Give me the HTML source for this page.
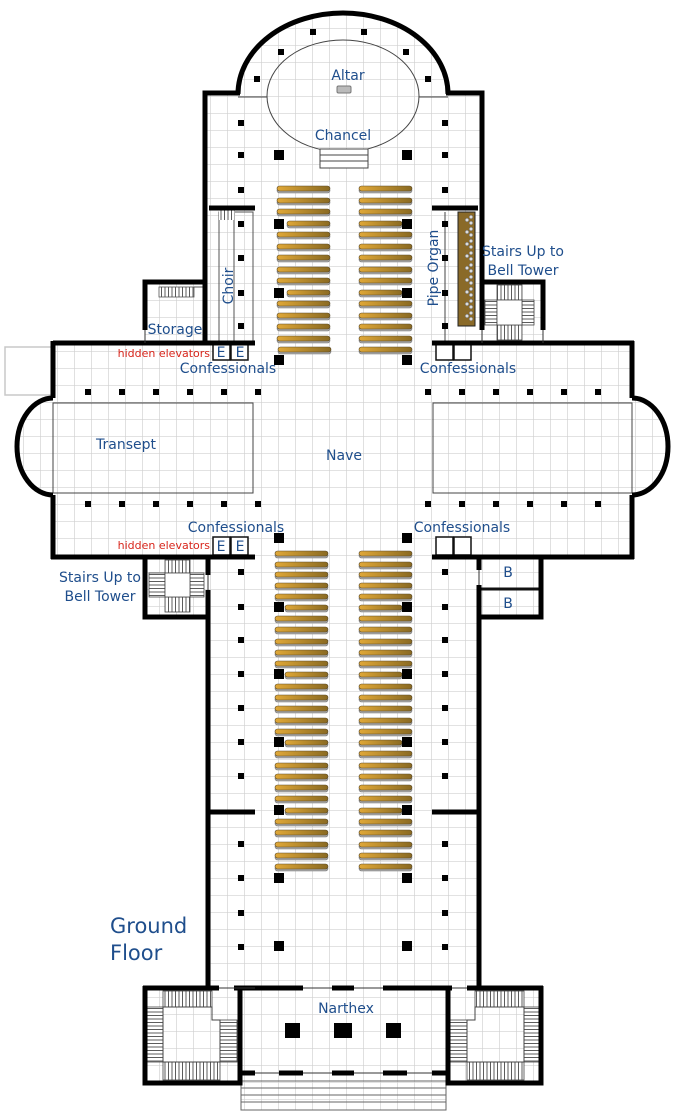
<!DOCTYPE html>
<html><head><meta charset="utf-8"><style>
html,body{margin:0;padding:0;background:#fff;}
svg{display:block;}
text{font-family:"DejaVu Sans","Liberation Sans",sans-serif;fill:#1f4e8c;}
</style></head><body>
<svg width="700" height="1120" viewBox="0 0 700 1120" xmlns="http://www.w3.org/2000/svg">
<defs>
<pattern id="g" patternUnits="userSpaceOnUse" x="6" y="11" width="17" height="17">
<rect width="17" height="17" fill="#fff"/>
<path d="M0,0V17M0,0H17" stroke="#d0d0d0" stroke-width="1.3" fill="none"/>
</pattern>
<linearGradient id="pw" x1="0" x2="1" y1="0" y2="0">
<stop offset="0" stop-color="#e0a838"/><stop offset="1" stop-color="#8a6a22"/>
</linearGradient>
<pattern id="vl" patternUnits="userSpaceOnUse" width="3.5" height="10"><rect width="3.5" height="10" fill="#fff"/><path d="M0.5,0V10" stroke="#333" stroke-width="0.8"/></pattern>
<pattern id="hl" patternUnits="userSpaceOnUse" width="10" height="3.5"><rect width="10" height="3.5" fill="#fff"/><path d="M0,0.5H10" stroke="#333" stroke-width="0.8"/></pattern>
<g id="P">
<rect x="277" y="186" width="53" height="5" rx="2.5"/><rect x="359" y="186" width="53" height="5" rx="2.5"/>
<rect x="277" y="198" width="53" height="5" rx="2.5"/><rect x="359" y="198" width="53" height="5" rx="2.5"/>
<rect x="277" y="209" width="53" height="5" rx="2.5"/><rect x="359" y="209" width="53" height="5" rx="2.5"/>
<rect x="287" y="221" width="43" height="5" rx="2.5"/><rect x="359" y="221" width="43" height="5" rx="2.5"/>
<rect x="277" y="232" width="53" height="5" rx="2.5"/><rect x="359" y="232" width="53" height="5" rx="2.5"/>
<rect x="277" y="244" width="53" height="5" rx="2.5"/><rect x="359" y="244" width="53" height="5" rx="2.5"/>
<rect x="277" y="255" width="53" height="5" rx="2.5"/><rect x="359" y="255" width="53" height="5" rx="2.5"/>
<rect x="277" y="267" width="53" height="5" rx="2.5"/><rect x="359" y="267" width="53" height="5" rx="2.5"/>
<rect x="277" y="278" width="53" height="5" rx="2.5"/><rect x="359" y="278" width="53" height="5" rx="2.5"/>
<rect x="287" y="290" width="43" height="5" rx="2.5"/><rect x="359" y="290" width="43" height="5" rx="2.5"/>
<rect x="277" y="301" width="53" height="5" rx="2.5"/><rect x="359" y="301" width="53" height="5" rx="2.5"/>
<rect x="277" y="313" width="53" height="5" rx="2.5"/><rect x="359" y="313" width="53" height="5" rx="2.5"/>
<rect x="277" y="324" width="53" height="5" rx="2.5"/><rect x="359" y="324" width="53" height="5" rx="2.5"/>
<rect x="277" y="336" width="53" height="5" rx="2.5"/><rect x="359" y="336" width="53" height="5" rx="2.5"/>
<rect x="278" y="347" width="53" height="5" rx="2.5"/><rect x="359" y="347" width="53" height="5" rx="2.5"/>
<rect x="275" y="551" width="53" height="5" rx="2.5"/><rect x="359" y="551" width="53" height="5" rx="2.5"/>
<rect x="275" y="562" width="53" height="5" rx="2.5"/><rect x="359" y="562" width="53" height="5" rx="2.5"/>
<rect x="275" y="572" width="53" height="5" rx="2.5"/><rect x="359" y="572" width="53" height="5" rx="2.5"/>
<rect x="275" y="583" width="53" height="5" rx="2.5"/><rect x="359" y="583" width="53" height="5" rx="2.5"/>
<rect x="275" y="594" width="53" height="5" rx="2.5"/><rect x="359" y="594" width="53" height="5" rx="2.5"/>
<rect x="285" y="605" width="43" height="5" rx="2.5"/><rect x="359" y="605" width="43" height="5" rx="2.5"/>
<rect x="275" y="616" width="53" height="5" rx="2.5"/><rect x="359" y="616" width="53" height="5" rx="2.5"/>
<rect x="275" y="627" width="53" height="5" rx="2.5"/><rect x="359" y="627" width="53" height="5" rx="2.5"/>
<rect x="275" y="639" width="53" height="5" rx="2.5"/><rect x="359" y="639" width="53" height="5" rx="2.5"/>
<rect x="275" y="650" width="53" height="5" rx="2.5"/><rect x="359" y="650" width="53" height="5" rx="2.5"/>
<rect x="275" y="661" width="53" height="5" rx="2.5"/><rect x="359" y="661" width="53" height="5" rx="2.5"/>
<rect x="285" y="672" width="43" height="5" rx="2.5"/><rect x="359" y="672" width="43" height="5" rx="2.5"/>
<rect x="275" y="684" width="53" height="5" rx="2.5"/><rect x="359" y="684" width="53" height="5" rx="2.5"/>
<rect x="275" y="695" width="53" height="5" rx="2.5"/><rect x="359" y="695" width="53" height="5" rx="2.5"/>
<rect x="275" y="706" width="53" height="5" rx="2.5"/><rect x="359" y="706" width="53" height="5" rx="2.5"/>
<rect x="275" y="718" width="53" height="5" rx="2.5"/><rect x="359" y="718" width="53" height="5" rx="2.5"/>
<rect x="275" y="729" width="53" height="5" rx="2.5"/><rect x="359" y="729" width="53" height="5" rx="2.5"/>
<rect x="285" y="740" width="43" height="5" rx="2.5"/><rect x="359" y="740" width="43" height="5" rx="2.5"/>
<rect x="275" y="751" width="53" height="5" rx="2.5"/><rect x="359" y="751" width="53" height="5" rx="2.5"/>
<rect x="275" y="763" width="53" height="5" rx="2.5"/><rect x="359" y="763" width="53" height="5" rx="2.5"/>
<rect x="275" y="774" width="53" height="5" rx="2.5"/><rect x="359" y="774" width="53" height="5" rx="2.5"/>
<rect x="275" y="785" width="53" height="5" rx="2.5"/><rect x="359" y="785" width="53" height="5" rx="2.5"/>
<rect x="275" y="796" width="53" height="5" rx="2.5"/><rect x="359" y="796" width="53" height="5" rx="2.5"/>
<rect x="285" y="808" width="43" height="5" rx="2.5"/><rect x="359" y="808" width="43" height="5" rx="2.5"/>
<rect x="275" y="819" width="53" height="5" rx="2.5"/><rect x="359" y="819" width="53" height="5" rx="2.5"/>
<rect x="275" y="830" width="53" height="5" rx="2.5"/><rect x="359" y="830" width="53" height="5" rx="2.5"/>
<rect x="275" y="842" width="53" height="5" rx="2.5"/><rect x="359" y="842" width="53" height="5" rx="2.5"/>
<rect x="275" y="853" width="53" height="5" rx="2.5"/><rect x="359" y="853" width="53" height="5" rx="2.5"/>
<rect x="275" y="864" width="53" height="5" rx="2.5"/><rect x="359" y="864" width="53" height="5" rx="2.5"/>
</g>
</defs>

<rect x="5" y="347" width="48" height="48" fill="#fff" stroke="#c8c8c8" stroke-width="1.5"/>

<g fill="url(#g)">
<path d="M238,94 A105,81 0 0 1 448,94 Z"/>
<rect x="205" y="93" width="277" height="252"/>
<rect x="145" y="282" width="62" height="62"/>
<rect x="480" y="282" width="63" height="62"/>
<rect x="53" y="343" width="579" height="214"/>
<ellipse cx="53" cy="446" rx="36" ry="48"/>
<ellipse cx="632" cy="446" rx="36" ry="48"/>
<rect x="208" y="555" width="271" height="433"/>
<rect x="143" y="557" width="66" height="60"/>
<rect x="479" y="557" width="62" height="60"/>
<rect x="143" y="988" width="400" height="95"/>
<rect x="241" y="1073" width="205" height="37"/>
</g>

<g fill="none" stroke="#444" stroke-width="1">
<ellipse cx="343" cy="96" rx="76" ry="56" fill="none"/>
<path d="M238,97H267M419,97H448"/>
<rect x="320" y="149" width="48" height="19" fill="#fff"/>
<path d="M320,155H368M320,161H368"/>
<rect x="53" y="403" width="200" height="90"/>
<rect x="433" y="403" width="199" height="90"/>
</g>
<rect x="337" y="86" width="14" height="7" rx="1.5" fill="#bbb" stroke="#777" stroke-width="1"/>

<g stroke="#666" stroke-width="1" fill="none">
<rect x="241" y="1073" width="205" height="37"/>
<path d="M241,1081H446M241,1088H446M241,1095H446M241,1102H446"/>
</g>

<g stroke="#555" stroke-width="1" fill="none">
<rect x="219" y="212" width="34" height="131"/>
<path d="M234,212V343"/>
</g>
<rect x="219" y="210" width="16" height="10" fill="url(#vl)"/>
<rect x="159" y="287" width="35" height="10" fill="url(#vl)" stroke="#555" stroke-width="0.8"/>
<path d="M194,287H205V300" stroke="#555" fill="none"/>

<rect x="458" y="212" width="17" height="114" fill="#8a6a28" stroke="#222" stroke-width="1"/>
<g fill="#ddd" stroke="#666" stroke-width="0.5">
<circle cx="471" cy="217" r="1.8"/><circle cx="471" cy="223" r="1.8"/><circle cx="471" cy="229" r="1.8"/><circle cx="471" cy="235" r="1.8"/><circle cx="471" cy="241" r="1.8"/><circle cx="471" cy="247" r="1.8"/><circle cx="471" cy="253" r="1.8"/><circle cx="471" cy="259" r="1.8"/><circle cx="471" cy="265" r="1.8"/><circle cx="471" cy="271" r="1.8"/><circle cx="471" cy="277" r="1.8"/><circle cx="471" cy="283" r="1.8"/><circle cx="471" cy="289" r="1.8"/><circle cx="471" cy="295" r="1.8"/><circle cx="471" cy="301" r="1.8"/><circle cx="471" cy="307" r="1.8"/><circle cx="471" cy="313" r="1.8"/><circle cx="471" cy="319" r="1.8"/>
<circle cx="467" cy="220" r="1.8"/><circle cx="467" cy="232" r="1.8"/><circle cx="467" cy="244" r="1.8"/><circle cx="467" cy="256" r="1.8"/><circle cx="467" cy="268" r="1.8"/><circle cx="467" cy="280" r="1.8"/><circle cx="467" cy="292" r="1.8"/><circle cx="467" cy="304" r="1.8"/><circle cx="467" cy="316" r="1.8"/>
</g>
<path d="M445,212V343" stroke="#444" stroke-width="1"/>

<g stroke="#444" stroke-width="0.8">
<rect x="497" y="285" width="25" height="15" fill="url(#vl)"/>
<rect x="497" y="325" width="25" height="15" fill="url(#vl)"/>
<rect x="485" y="300" width="12" height="25" fill="url(#hl)"/>
<rect x="522" y="300" width="12" height="25" fill="url(#hl)"/>
<rect x="497" y="300" width="25" height="25" fill="#fff"/>
</g>
<g stroke="#444" stroke-width="0.8">
<rect x="165" y="560" width="25" height="13" fill="url(#vl)"/>
<rect x="165" y="597" width="25" height="15" fill="url(#vl)"/>
<rect x="149" y="573" width="16" height="24" fill="url(#hl)"/>
<rect x="190" y="573" width="14" height="24" fill="url(#hl)"/>
<rect x="165" y="573" width="25" height="24" fill="#fff"/>
</g>

<g stroke="#444" stroke-width="0.8">
<rect x="163" y="991" width="49" height="16" fill="url(#vl)"/>
<rect x="147" y="1007" width="16" height="55" fill="url(#hl)"/>
<rect x="163" y="1062" width="57" height="18" fill="url(#vl)"/>
<rect x="220" y="1020" width="17" height="42" fill="url(#hl)"/>
<rect x="475" y="991" width="49" height="16" fill="url(#vl)"/>
<rect x="524" y="1007" width="16" height="55" fill="url(#hl)"/>
<rect x="467" y="1062" width="57" height="18" fill="url(#vl)"/>
<rect x="450" y="1020" width="17" height="42" fill="url(#hl)"/>
</g>
<g fill="none" stroke="#444" stroke-width="1">
<path d="M163,1007H212V1020H220V1062H163Z"/>
<path d="M524,1007H475V1020H467V1062H524Z"/>
</g>

<g stroke="#111" stroke-width="1.5" fill="#fff">
<rect x="213" y="343" width="17" height="17"/><rect x="231" y="343" width="17" height="17"/>
<rect x="213" y="537" width="17" height="18"/><rect x="231" y="537" width="17" height="18"/>
<rect x="436" y="343" width="17" height="17"/><rect x="454" y="343" width="17" height="17"/>
<rect x="436" y="537" width="17" height="18"/><rect x="454" y="537" width="17" height="18"/>
</g>

<path d="M479,589H541" stroke="#111" stroke-width="3"/>

<g fill="none" stroke="#000" stroke-width="5" stroke-linejoin="miter">
<path d="M238,94 A105,81 0 0 1 448,94"/>
<path d="M240,93H205V345"/>
<path d="M446,93H482V330"/>
<path d="M482,282H543V330"/>
<path d="M207,282H145V330"/>
<path d="M209,208H255"/>
<path d="M432,208H478"/>
<path d="M53,343H255M432,343H634"/>
<path d="M53,341V398M53,495V559"/>
<path d="M632,341V398M632,495V559"/>
<path d="M53,398 A36,48.5 0 0 0 53,495"/>
<path d="M632,398 A36,48.5 0 0 1 632,495"/>
<path d="M51,557H255M432,557H634"/>
<path d="M208,557V575M208,590V990"/>
<path d="M479,557V570M479,585V990"/>
<path d="M479,557H541V617H479"/>
<path d="M208,557H145V617H208"/>
<path d="M208,812H255M432,812H479"/>
<path d="M143,988H219M234,988H303M332,988H354M383,988H452M467,988H543"/>
<path d="M145,986V1083H240V986M448,986V1083H541V986"/>
<path d="M240,1073H255M279,1073H303M332,1073H354M383,1073H407M432,1073H448"/>
</g>
<g stroke="#333" stroke-width="1">
<path d="M145,330V343M543,330V343M482,330V343M208,575V590M479,570V585M255,988H234M219,988H234M303,988H332M354,988H383M452,988H467M255,1073H279M303,1073H332M354,1073H383M407,1073H432"/>
</g>

<!-- pews: shadow then body -->
<use href="#P" transform="translate(0,2)" fill="#a8a8a8" stroke="#777" stroke-width="0.6"/>
<use href="#P" fill="url(#pw)" stroke="#5a4a2a" stroke-width="0.6"/>

<g fill="#000">
<rect x="310" y="29" width="6" height="6"/><rect x="361" y="29" width="6" height="6"/>
<rect x="278" y="49" width="6" height="6"/><rect x="403" y="49" width="6" height="6"/>
<rect x="254" y="76" width="6" height="6"/><rect x="425" y="76" width="6" height="6"/>
<rect x="238" y="120" width="6" height="6"/><rect x="442" y="120" width="6" height="6"/>
<rect x="238" y="152" width="6" height="6"/><rect x="442" y="152" width="6" height="6"/>
<rect x="238" y="187" width="6" height="6"/><rect x="442" y="187" width="6" height="6"/>
<rect x="274" y="150" width="10" height="10"/><rect x="402" y="150" width="10" height="10"/>
<rect x="238" y="221" width="6" height="6"/><rect x="442" y="221" width="6" height="6"/>
<rect x="238" y="255" width="6" height="6"/><rect x="442" y="255" width="6" height="6"/>
<rect x="238" y="290" width="6" height="6"/><rect x="442" y="290" width="6" height="6"/>
<rect x="238" y="323" width="6" height="6"/><rect x="442" y="323" width="6" height="6"/>
<rect x="274" y="219" width="10" height="10"/><rect x="402" y="219" width="10" height="10"/>
<rect x="274" y="288" width="10" height="10"/><rect x="402" y="288" width="10" height="10"/>
<rect x="274" y="355" width="10" height="10"/><rect x="402" y="355" width="10" height="10"/>
<rect x="274" y="533" width="10" height="10"/><rect x="402" y="533" width="10" height="10"/>
<rect x="85" y="389" width="6" height="6"/><rect x="119" y="389" width="6" height="6"/><rect x="153" y="389" width="6" height="6"/><rect x="187" y="389" width="6" height="6"/><rect x="221" y="389" width="6" height="6"/><rect x="255" y="389" width="6" height="6"/>
<rect x="85" y="501" width="6" height="6"/><rect x="119" y="501" width="6" height="6"/><rect x="153" y="501" width="6" height="6"/><rect x="187" y="501" width="6" height="6"/><rect x="221" y="501" width="6" height="6"/><rect x="255" y="501" width="6" height="6"/>
<rect x="425" y="389" width="6" height="6"/><rect x="459" y="389" width="6" height="6"/><rect x="493" y="389" width="6" height="6"/><rect x="527" y="389" width="6" height="6"/><rect x="561" y="389" width="6" height="6"/><rect x="595" y="389" width="6" height="6"/>
<rect x="425" y="501" width="6" height="6"/><rect x="459" y="501" width="6" height="6"/><rect x="493" y="501" width="6" height="6"/><rect x="527" y="501" width="6" height="6"/><rect x="561" y="501" width="6" height="6"/><rect x="595" y="501" width="6" height="6"/>
<rect x="238" y="569" width="6" height="6"/><rect x="442" y="569" width="6" height="6"/>
<rect x="238" y="604" width="6" height="6"/><rect x="442" y="604" width="6" height="6"/>
<rect x="238" y="637" width="6" height="6"/><rect x="442" y="637" width="6" height="6"/>
<rect x="238" y="671" width="6" height="6"/><rect x="442" y="671" width="6" height="6"/>
<rect x="238" y="705" width="6" height="6"/><rect x="442" y="705" width="6" height="6"/>
<rect x="238" y="739" width="6" height="6"/><rect x="442" y="739" width="6" height="6"/>
<rect x="238" y="773" width="6" height="6"/><rect x="442" y="773" width="6" height="6"/>
<rect x="238" y="841" width="6" height="6"/><rect x="442" y="841" width="6" height="6"/>
<rect x="238" y="875" width="6" height="6"/><rect x="442" y="875" width="6" height="6"/>
<rect x="238" y="910" width="6" height="6"/><rect x="442" y="910" width="6" height="6"/>
<rect x="238" y="944" width="6" height="6"/><rect x="442" y="944" width="6" height="6"/>
<rect x="274" y="602" width="10" height="10"/><rect x="402" y="602" width="10" height="10"/>
<rect x="274" y="669" width="10" height="10"/><rect x="402" y="669" width="10" height="10"/>
<rect x="274" y="737" width="10" height="10"/><rect x="402" y="737" width="10" height="10"/>
<rect x="274" y="805" width="10" height="10"/><rect x="402" y="805" width="10" height="10"/>
<rect x="274" y="873" width="10" height="10"/><rect x="402" y="873" width="10" height="10"/>
<rect x="274" y="941" width="10" height="10"/><rect x="402" y="941" width="10" height="10"/>
<rect x="285" y="1023" width="15" height="15"/><rect x="334" y="1023" width="18" height="15"/><rect x="386" y="1023" width="15" height="15"/>
</g>

<g font-size="14">
<text x="348" y="80" text-anchor="middle">Altar</text>
<text x="343" y="140" text-anchor="middle">Chancel</text>
<text transform="translate(233,286) rotate(-90)" text-anchor="middle">Choir</text>
<text transform="translate(438,268) rotate(-90)" text-anchor="middle">Pipe Organ</text>
<text x="523" y="256" text-anchor="middle">Stairs Up to</text>
<text x="523" y="275" text-anchor="middle">Bell Tower</text>
<text x="175" y="334" text-anchor="middle">Storage</text>
<text x="228" y="373" text-anchor="middle">Confessionals</text>
<text x="468" y="373" text-anchor="middle">Confessionals</text>
<text x="236" y="532" text-anchor="middle">Confessionals</text>
<text x="462" y="532" text-anchor="middle">Confessionals</text>
<text x="126" y="449" text-anchor="middle">Transept</text>
<text x="344" y="460" text-anchor="middle">Nave</text>
<text x="100" y="582" text-anchor="middle">Stairs Up to</text>
<text x="100" y="601" text-anchor="middle">Bell Tower</text>
<text x="508" y="577" text-anchor="middle">B</text>
<text x="508" y="608" text-anchor="middle">B</text>
<text x="346" y="1013" text-anchor="middle">Narthex</text>
<text x="221" y="357" text-anchor="middle">E</text><text x="240" y="357" text-anchor="middle">E</text>
<text x="221" y="551" text-anchor="middle">E</text><text x="240" y="551" text-anchor="middle">E</text>
</g>
<g font-size="11">
<text x="210" y="357" text-anchor="end" style="fill:#d8261c">hidden elevators</text>
<text x="210" y="549" text-anchor="end" style="fill:#d8261c">hidden elevators</text>
</g>
<g font-size="21">
<text x="110" y="933">Ground</text>
<text x="110" y="960">Floor</text>
</g>
</svg>
</body></html>
